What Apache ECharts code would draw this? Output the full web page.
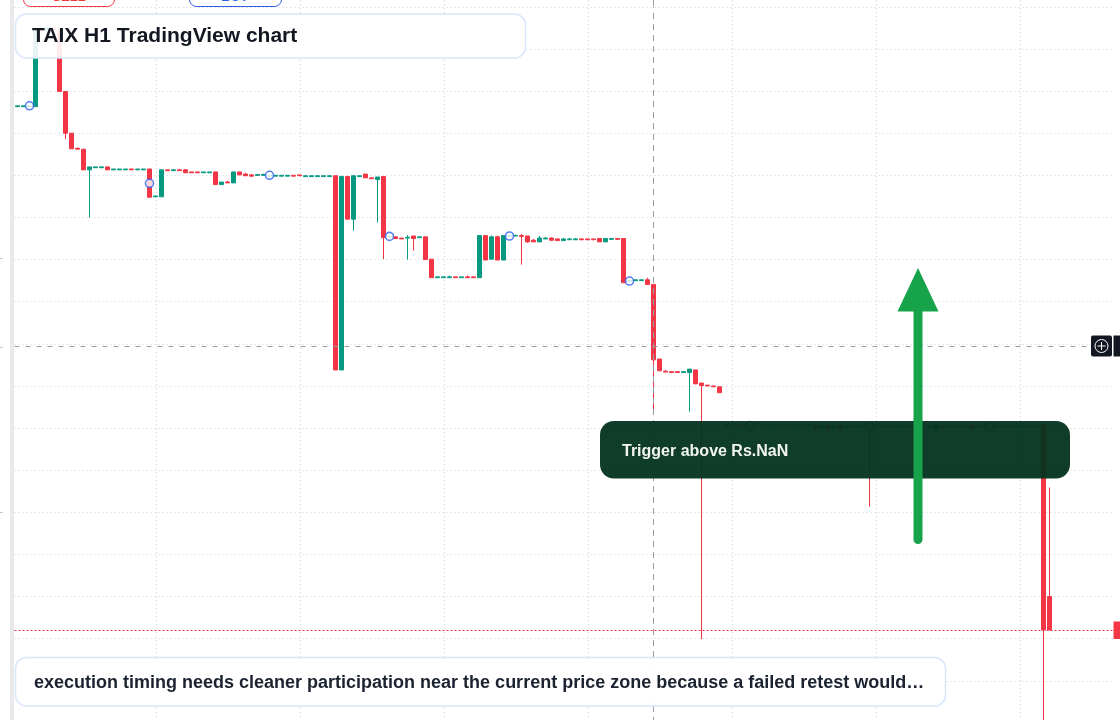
<!DOCTYPE html>
<html>
<head>
<meta charset="utf-8">
<title>TAIX H1 TradingView chart</title>
<script src="https://cdn.jsdelivr.net/npm/echarts@6/dist/echarts.min.js"></script>
<style>
  html, body { margin: 0; padding: 0; background: #ffffff; }
  #main { width: 1120px; height: 720px; }
</style>
</head>
<body>
<div id="main"></div>
<script>
// hourly bars, oldest first
var opens = [
  57.63, 57.63, 57.63, 57.63, 59.47, 59.43, 59.50, 59.45, 57.99, 57.00,
  56.64, 56.62, 56.13, 56.18, 56.18, 56.20, 56.13, 56.13, 56.13, 56.15,
  56.13, 56.13, 56.15, 55.49, 55.49, 56.13, 56.11, 56.13, 56.13, 56.08,
  56.08, 56.06, 56.06, 56.08, 55.78, 55.84, 55.82, 56.08, 56.03, 56.01,
  56.00, 56.00, 55.98, 55.98, 55.98, 55.98, 56.00, 56.01, 55.97, 55.97,
  55.97, 55.97, 55.97, 55.99, 51.38, 55.97, 54.96, 55.97, 56.03, 55.94,
  55.90, 55.97, 54.54, 54.54, 54.51, 54.51, 54.56, 54.52, 54.54, 54.01,
  53.57, 53.57, 53.57, 53.59, 53.57, 53.59, 53.59, 53.57, 54.57, 54.01,
  54.54, 53.99, 54.55, 54.56, 54.57, 54.56, 54.46, 54.42, 54.49, 54.51,
  54.49, 54.45, 54.47, 54.47, 54.49, 54.49, 54.49, 54.50, 54.42, 54.48,
  54.50, 54.50, 53.48, 53.50, 53.50, 53.52, 53.41, 51.64, 51.35, 51.34,
  51.34, 51.32, 51.32, 51.38, 51.07, 51.02, 51.00, 50.98, 50.07, 50.05,
  50.07, 50.07, 50.05, 50.05, 50.07, 50.05, 50.05, 50.07, 50.07, 50.05,
  50.05, 50.07, 50.05, 50.07, 49.99, 50.07, 49.99, 50.07, 50.03, 50.05,
  50.03, 50.03, 50.05, 50.03, 50.05, 50.03, 50.05, 50.03, 50.03, 50.05,
  50.03, 50.05, 50.03, 49.99, 50.05, 50.03, 50.05, 50.03, 50.05, 50.07,
  50.03, 50.05, 50.03, 50.03, 50.05, 50.03, 50.05, 50.03, 50.03, 50.05,
  50.03, 50.07, 46.00
]
var closes = [
  57.65, 57.65, 57.65, 59.47, 59.43, 59.50, 59.45, 57.99, 57.00, 56.63,
  56.62, 56.13, 56.20, 56.20, 56.20, 56.13, 56.15, 56.15, 56.15, 56.13,
  56.15, 56.15, 55.48, 55.51, 56.13, 56.11, 56.13, 56.11, 56.06, 56.06,
  56.06, 56.08, 56.08, 55.78, 55.84, 55.82, 56.08, 56.01, 55.99, 55.98,
  56.02, 56.02, 56.00, 56.00, 56.00, 56.00, 55.98, 55.99, 55.99, 55.99,
  55.99, 55.99, 55.99, 51.38, 55.97, 54.96, 55.99, 55.99, 55.94, 55.92,
  55.96, 54.52, 54.55, 54.50, 54.49, 54.53, 54.50, 54.54, 54.00, 53.57,
  53.59, 53.59, 53.59, 53.57, 53.59, 53.57, 53.57, 54.57, 53.99, 54.54,
  53.99, 54.57, 54.57, 54.57, 54.55, 54.42, 54.42, 54.51, 54.51, 54.46,
  54.45, 54.49, 54.49, 54.49, 54.47, 54.47, 54.47, 54.42, 54.50, 54.50,
  54.48, 53.45, 53.50, 53.52, 53.52, 53.41, 51.62, 51.36, 51.33, 51.32,
  51.32, 51.34, 51.40, 51.05, 51.01, 51.00, 50.98, 50.84, 50.05, 50.07,
  50.05, 50.05, 50.07, 50.07, 50.05, 50.07, 50.07, 50.05, 50.05, 50.07,
  50.07, 50.05, 50.07, 49.98, 50.06, 49.99, 50.07, 49.98, 50.05, 50.03,
  50.05, 50.05, 50.03, 50.05, 50.03, 50.05, 50.03, 50.05, 50.05, 50.03,
  50.05, 50.03, 50.05, 50.07, 50.03, 50.05, 50.03, 50.05, 50.03, 49.99,
  50.05, 50.03, 50.05, 50.05, 50.03, 50.05, 50.03, 50.05, 50.05, 50.03,
  50.05, 45.21, 45.21
]
var lows = [
  57.63, 57.63, 57.63, 57.63, 59.42, 59.43, 59.45, 57.99, 56.86, 56.63,
  56.62, 56.13, 55.00, 56.18, 56.18, 56.13, 56.13, 56.13, 56.13, 56.13,
  56.13, 56.13, 55.48, 55.49, 55.49, 56.11, 56.11, 56.11, 56.06, 56.06,
  56.06, 56.06, 56.06, 55.78, 55.78, 55.82, 55.82, 56.01, 55.99, 55.98,
  56.00, 56.00, 55.98, 55.98, 55.98, 55.98, 55.98, 55.99, 55.97, 55.97,
  55.97, 55.97, 55.97, 51.38, 51.38, 54.96, 54.69, 55.97, 55.94, 55.92,
  54.88, 54.01, 54.54, 54.50, 54.49, 54.00, 54.21, 54.52, 54.00, 53.57,
  53.57, 53.57, 53.57, 53.57, 53.57, 53.57, 53.57, 53.57, 53.99, 54.01,
  53.99, 53.99, 54.55, 54.56, 53.88, 54.40, 54.42, 54.42, 54.49, 54.44,
  54.45, 54.45, 54.47, 54.47, 54.47, 54.47, 54.47, 54.42, 54.42, 54.48,
  54.48, 53.45, 53.48, 53.50, 53.50, 53.41, 50.31, 51.36, 51.33, 51.32,
  51.32, 51.32, 50.39, 51.05, 44.99, 51.00, 50.98, 50.84, 50.05, 50.05,
  50.05, 50.05, 50.05, 50.05, 50.05, 50.05, 50.05, 50.05, 50.05, 50.05,
  50.05, 50.05, 50.05, 49.98, 49.99, 49.99, 49.99, 49.98, 50.03, 50.03,
  50.03, 50.03, 48.13, 50.03, 50.03, 50.03, 50.03, 50.03, 50.03, 50.03,
  50.03, 50.03, 50.03, 49.99, 50.03, 50.03, 50.03, 50.03, 50.03, 49.99,
  50.03, 50.03, 50.03, 50.03, 50.03, 50.03, 50.03, 50.03, 50.03, 50.03,
  50.03, 42.83, 45.21
]
var highs = [
  57.65, 57.65, 57.65, 59.50, 59.48, 59.52, 59.51, 59.45, 57.99, 57.00,
  56.66, 56.62, 56.20, 56.20, 56.20, 56.20, 56.15, 56.15, 56.15, 56.15,
  56.15, 56.15, 56.15, 55.51, 56.13, 56.13, 56.15, 56.15, 56.15, 56.08,
  56.08, 56.08, 56.08, 56.08, 55.84, 55.87, 56.08, 56.08, 56.06, 56.03,
  56.02, 56.04, 56.00, 56.00, 56.00, 56.00, 56.00, 56.01, 55.99, 55.99,
  55.99, 55.99, 55.99, 55.99, 55.99, 55.99, 55.99, 55.99, 56.03, 55.94,
  55.96, 55.97, 54.55, 54.54, 54.51, 54.58, 54.56, 54.54, 54.54, 54.01,
  53.59, 53.59, 53.62, 53.59, 53.59, 53.62, 53.59, 54.58, 54.57, 54.57,
  54.57, 54.57, 54.57, 54.60, 54.61, 54.56, 54.49, 54.56, 54.53, 54.53,
  54.49, 54.51, 54.51, 54.51, 54.51, 54.49, 54.49, 54.50, 54.50, 54.50,
  54.50, 54.50, 53.50, 53.52, 53.52, 53.57, 53.41, 51.64, 51.38, 51.34,
  51.34, 51.34, 51.40, 51.38, 51.07, 51.02, 51.00, 50.98, 50.07, 50.07,
  50.07, 50.07, 50.07, 50.07, 50.07, 50.07, 50.07, 50.07, 50.07, 50.07,
  50.07, 50.07, 50.07, 50.07, 50.06, 50.07, 50.07, 50.07, 50.05, 50.05,
  50.05, 50.05, 50.05, 50.05, 50.05, 50.05, 50.05, 50.05, 50.05, 50.05,
  50.05, 50.05, 50.05, 50.07, 50.05, 50.05, 50.05, 50.05, 50.05, 50.07,
  50.05, 50.05, 50.05, 50.05, 50.05, 50.05, 50.05, 50.05, 50.05, 50.05,
  50.05, 50.07, 48.59
]
var slotCount = 183 // bars on screen incl. empty space at the right
var markerIdx = [2, 22, 42, 62, 82, 102, 122, 142, 162]
var markerVal = [57.65, 55.81, 56.00, 54.55, 54.56, 53.49, 50.06, 50.04, 50.04]
var crossIdx = 106
var crossPrice = 51.95
var lastPrice = 45.21

var titleText = 'TAIX H1 TradingView chart'
var triggerText = 'Trigger above Rs.NaN'
var noteText = 'execution timing needs cleaner participation near the current price zone because a failed retest would\u2026'

var UP = '#089981'
var DOWN = '#f23645'
var FONT = '"Liberation Sans", Arial, sans-serif'

function build () {
  var myChart = echarts.init(document.getElementById('main'), null, {renderer: 'canvas'})
  var slots = []
  for (var i = 0; i < slotCount; i++) slots.push(String(i))
  var candles = opens.map(function (o, k) {
    return [o, closes[k], lows[k], highs[k]]
  })
  var markers = markerIdx.map(function (x, k) {
    return [x, markerVal[k]]
  })

  var option = {
    animation: false,
    backgroundColor: '#ffffff',
    grid: [
      // price pane runs a little past the bottom edge
      {left: 14.5, top: 6.8, width: 1098, height: 716.2, show: false, outerBoundsMode: 'none', containLabel: false},
      // second grid only carries the vertical dotted lines
      {left: 12, top: 0, width: 1008, height: 720, show: false, outerBoundsMode: 'none', containLabel: false}
    ],
    xAxis: [
      {
        type: 'category',
        gridIndex: 0,
        data: slots,
        boundaryGap: true,
        axisLine: {show: false},
        axisTick: {show: false},
        axisLabel: {show: false},
        splitLine: {show: false}
      },
      {
        type: 'value',
        gridIndex: 1,
        min: 0,
        max: 1008,
        interval: 144,
        axisLine: {show: false},
        axisTick: {show: false},
        axisLabel: {show: false},
        splitLine: {show: true, lineStyle: {color: '#d0d2d8', type: [1, 3], width: 1}}
      }
    ],
    yAxis: [
      {
        type: 'value',
        gridIndex: 0,
        min: 43,
        max: 60,
        interval: 1,
        axisLine: {show: false},
        axisTick: {show: false},
        axisLabel: {show: false},
        splitLine: {show: true, lineStyle: {color: '#d0d2d8', type: [1, 3], width: 1}}
      },
      {
        type: 'value',
        gridIndex: 1,
        min: 0,
        max: 1,
        show: false,
        splitLine: {show: false}
      }
    ],
    series: [
      {
        name: 'TAIX',
        type: 'candlestick',
        xAxisIndex: 0,
        yAxisIndex: 0,
        barWidth: 4,
        clip: false,
        itemStyle: {
          color: UP,
          color0: DOWN,
          borderColor: UP,
          borderColor0: DOWN,
          borderWidth: 1
        },
        data: candles,
        markLine: {
          silent: true,
          symbol: 'none',
          label: {show: false},
          animation: false,
          data: [
            {yAxis: lastPrice, lineStyle: {color: '#f23645', type: [2, 2], width: 1.2, opacity: 1}},
            {yAxis: crossPrice, lineStyle: {color: '#9a9ca3', type: [5, 6], width: 1}},
            {xAxis: crossIdx, lineStyle: {color: '#9a9ca3', type: [6, 5], width: 1}}
          ]
        }
      },
      {
        name: 'marks',
        type: 'scatter',
        xAxisIndex: 0,
        yAxisIndex: 0,
        symbol: 'circle',
        symbolSize: 8,
        z: 3,
        itemStyle: {color: '#ffffff', borderColor: '#2d62f2', borderWidth: 1.6},
        data: markers
      }
    ],
    graphic: {
      elements: [
        // left pane separator
        {type: 'rect', z: 100, shape: {x: 10, y: 0, width: 4, height: 720}, style: {fill: '#e9e9eb'}},
        {type: 'line', z: 100, shape: {x1: 0, y1: 258.5, x2: 3, y2: 258.5}, style: {stroke: '#c8c8cc', lineWidth: 1}},
        {type: 'line', z: 100, shape: {x1: 0, y1: 347.5, x2: 3, y2: 347.5}, style: {stroke: '#c8c8cc', lineWidth: 1}},
        {type: 'line', z: 100, shape: {x1: 0, y1: 512.5, x2: 3, y2: 512.5}, style: {stroke: '#c8c8cc', lineWidth: 1}},
        // crosshair continues above the pane top
        {type: 'line', z: 1, shape: {x1: 653.5, y1: 0, x2: 653.5, y2: 7}, style: {stroke: '#9a9ca3', lineWidth: 1, lineDash: [6, 5]}},
        // order buttons, mostly scrolled off the top
        {type: 'rect', z: 100, shape: {x: 23.5, y: -22, width: 91, height: 28.5, r: 7}, style: {fill: '#ffffff', stroke: DOWN, lineWidth: 1}},
        {type: 'text', z: 101, style: {text: 'SELL', x: 69, y: -3, textAlign: 'center', textVerticalAlign: 'middle', font: 'bold 13px ' + FONT, fill: DOWN}},
        {type: 'rect', z: 100, shape: {x: 189.5, y: -22, width: 92, height: 28.5, r: 7}, style: {fill: '#ffffff', stroke: '#2f5fe0', lineWidth: 1}},
        {type: 'text', z: 101, style: {text: 'BUY', x: 235, y: -3, textAlign: 'center', textVerticalAlign: 'middle', font: 'bold 13px ' + FONT, fill: '#2f5fe0'}},
        // title card
        {type: 'rect', z: 100, shape: {x: 15.5, y: 14, width: 510, height: 44, r: 11}, style: {fill: 'rgba(255,255,255,0.9)', stroke: '#d8e5fb', lineWidth: 1.5}},
        {type: 'text', z: 101, style: {text: titleText, x: 32, y: 36.5, textAlign: 'left', textVerticalAlign: 'middle', font: 'bold 21px ' + FONT, fill: '#131722'}},
        // trigger card
        {type: 'rect', z: 100, shape: {x: 600, y: 421, width: 470, height: 57.5, r: 14}, style: {fill: 'rgba(3,51,30,0.95)'}},
        {type: 'text', z: 101, style: {text: triggerText, x: 622, y: 451.5, textAlign: 'left', textVerticalAlign: 'middle', font: 'bold 16px ' + FONT, fill: '#f2f5f3'}},
        // arrow
        {type: 'line', z: 110, shape: {x1: 918, y1: 305, x2: 918, y2: 539.5}, style: {stroke: '#16a34a', lineWidth: 9, lineCap: 'round'}},
        {type: 'polygon', z: 110, shape: {points: [[918, 268], [938.5, 311.5], [897.5, 311.5]]}, style: {fill: '#16a34a'}},
        // note card
        {type: 'rect', z: 100, shape: {x: 15.5, y: 657.5, width: 930, height: 48.5, r: 11}, style: {fill: 'rgba(255,255,255,0.95)', stroke: '#d8e5fb', lineWidth: 1.5}},
        {type: 'text', z: 101, style: {text: noteText, x: 34, y: 683.5, textAlign: 'left', textVerticalAlign: 'middle', font: 'bold 18px ' + FONT, fill: '#1b2230'}},
        // crosshair / price labels on the right edge
        {type: 'rect', z: 100, shape: {x: 1091, y: 335.5, width: 21, height: 21, r: 2}, style: {fill: '#131722'}},
        {type: 'circle', z: 101, shape: {cx: 1101.5, cy: 346, r: 6.5}, style: {fill: 'none', stroke: '#ffffff', lineWidth: 1}},
        {type: 'line', z: 101, shape: {x1: 1097.5, y1: 346, x2: 1105.5, y2: 346}, style: {stroke: '#ffffff', lineWidth: 1}},
        {type: 'line', z: 101, shape: {x1: 1101.5, y1: 342, x2: 1101.5, y2: 350}, style: {stroke: '#ffffff', lineWidth: 1}},
        {type: 'rect', z: 100, shape: {x: 1113.5, y: 335.5, width: 10, height: 21}, style: {fill: '#131722'}},
        {type: 'rect', z: 100, shape: {x: 1113.5, y: 621.5, width: 10, height: 17.5}, style: {fill: DOWN}}
      ]
    }
  }
  option && myChart.setOption(option)
}

build()
</script>
</body>
</html>
